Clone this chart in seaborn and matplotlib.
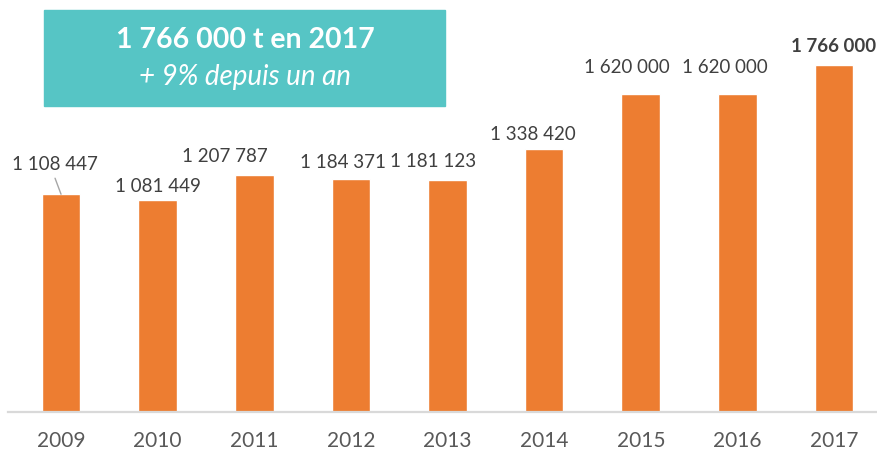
import matplotlib
matplotlib.use("Agg")
import matplotlib.pyplot as plt
import seaborn as sns
import pandas as pd
from matplotlib.patches import Rectangle

years = ["2009", "2010", "2011", "2012", "2013", "2014", "2015", "2016", "2017"]
values = [1108447, 1081449, 1207787, 1184371, 1181123, 1338420, 1620000, 1620000, 1766000]
labels = ["1 108 447", "1 081 449", "1 207 787", "1 184 371", "1 181 123",
          "1 338 420", "1 620 000", "1 620 000", "1 766 000"]
title_main = "1 766 000 t en 2017"
title_sub = "+ 9% depuis un an"

sns.set_theme(style="white")
plt.rcParams['font.family'] = ['Lato', 'DejaVu Sans']

df = pd.DataFrame({"year": years, "value": values})

fig = plt.figure(figsize=(8.77, 4.53), dpi=100)
ax = fig.add_axes([8/877, 41/453, 869/877, 412/453])
sns.barplot(data=df, x="year", y="value", color="#ED7D31", width=0.4,
            saturation=1, ax=ax)
ax.set_xlim(-0.549, 8.445)
ax.set_ylim(0, 2097000)
for s in ["top", "right", "left"]:
    ax.spines[s].set_visible(False)
ax.spines["bottom"].set_color("#D9D9D9")
ax.spines["bottom"].set_linewidth(1.6)
ax.set_yticks([])
ax.set_xlabel("")
ax.set_ylabel("")
ax.tick_params(axis="x", length=0, pad=14, labelsize=15, labelcolor="#595959")

dxs = [-6, 0, -29, -8, -14, -11, -14, -13, 0]
dys = [30, 13, 18, 17, 18, 15, 26, 26, 19]
for i, (v, lab) in enumerate(zip(values, labels)):
    bold = (i == len(values) - 1)
    ax.annotate(lab, xy=(i, v), xytext=(dxs[i], dys[i]), textcoords="offset pixels",
                ha="center", va="center", fontsize=13.5, color="#404040",
                fontweight="bold" if bold else "normal")
# leader line for first label
ax.annotate("", xy=(0, values[0]), xytext=(-6, 16), textcoords="offset pixels",
            arrowprops=dict(arrowstyle="-", color="#A6A6A6", lw=1,
                            shrinkA=0, shrinkB=0))

# teal box
fig.patches.append(Rectangle((44/877, 1 - 106/453), (445-44)/877, (106-10)/453,
                             transform=fig.transFigure, color="#56C5C5", zorder=0))
fig.text(245/877, 1 - 40/453, title_main, ha="center", va="center",
         fontsize=20.5, fontweight="bold", color="white")
fig.text(245/877, 1 - 77/453, title_sub, ha="center", va="center",
         fontsize=20, fontstyle="italic", color="white")

fig.savefig("out.png", dpi=100)
